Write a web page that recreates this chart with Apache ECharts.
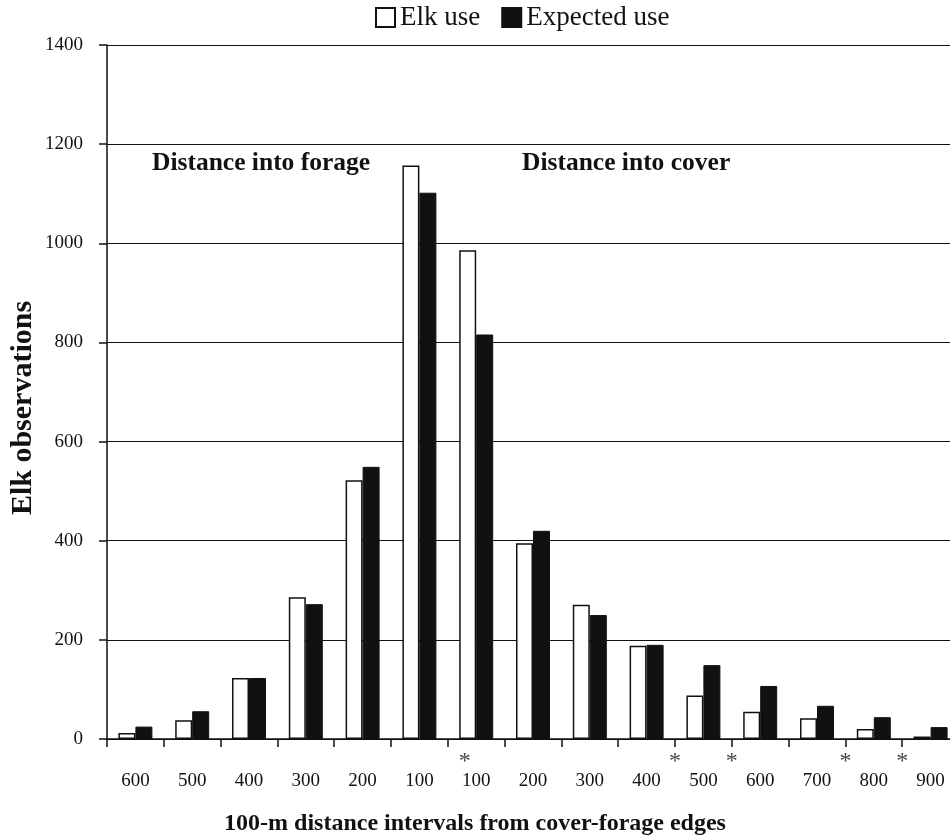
<!DOCTYPE html>
<html><head><meta charset="utf-8">
<script src="https://cdn.jsdelivr.net/npm/echarts@6/dist/echarts.min.js"></script>
<style>html,body{margin:0;padding:0;background:#fff}#c{width:950px;height:840px}</style>
</head><body><div id="c"></div>
<script>
const categories = ['600','500','400','300','200','100','100','200','300','400','500','600','700','800','900'];
const elkUse = [12, 38, 123, 286, 522, 1157, 986, 395, 271, 188, 88, 55, 42, 20, 5];
const expectedUse = [25, 56, 123, 272, 549, 1102, 816, 420, 250, 190, 149, 107, 67, 44, 24];
const yMin = 0, yMax = 1400, yInterval = 200;
const asteriskPositions = [6.3, 10, 11, 13, 14];
const regionLabels = ['Distance into forage', 'Distance into cover'];
const seriesNames = ['Elk use', 'Expected use'];
const xTitle = '100-m distance intervals from cover-forage edges';
const yTitle = 'Elk observations';

const FF = '"Liberation Serif", "Times New Roman", serif';
const INK = '#111';
const chart = echarts.init(document.getElementById('c'), null, {renderer: 'canvas'});
chart.setOption({
  animation: false,
  backgroundColor: '#fff',
  title: {
    text: xTitle, left: 'center', top: 812, padding: 0,
    textStyle: {fontFamily: FF, fontSize: 24, fontWeight: 'bold', color: INK}
  },
  legend: {
    data: seriesNames, top: 4, left: 375, padding: 0,
    icon: 'rect', itemWidth: 19, itemHeight: 19, itemGap: 21,
    textStyle: {fontFamily: FF, fontSize: 27, color: INK, padding: [0, 0, 0, 0]}
  },
  grid: {left: 107, top: 45, width: 852, height: 694, outerBoundsMode: 'none', containLabel: false},
  xAxis: [{
    type: 'category', data: categories, boundaryGap: true,
    axisLine: {show: true, lineStyle: {color: INK, width: 1.5}},
    axisTick: {show: true, length: 8, interval: 0, alignWithLabel: false, lineStyle: {color: INK, width: 1.5}},
    axisLabel: {interval: 0, margin: 33, fontFamily: FF, fontSize: 19, color: INK},
    splitLine: {show: false}
  }, {
    type: 'value', min: 0, max: categories.length, show: false
  }],
  yAxis: {
    type: 'value', min: yMin, max: yMax, interval: yInterval,
    axisLine: {show: true, lineStyle: {color: INK, width: 1.5}},
    axisTick: {show: true, length: 8, lineStyle: {color: INK, width: 1.5}},
    axisLabel: {margin: 24, fontFamily: FF, fontSize: 19, color: INK, formatter: v => String(v)},
    splitLine: {show: true, lineStyle: {color: INK, width: 1}}
  },
  graphic: [
    {type: 'text', left: 152, top: 150, style: {text: regionLabels[0], font: 'bold 25.5px ' + FF, fill: INK}},
    {type: 'text', left: 522, top: 150, style: {text: regionLabels[1], font: 'bold 25.5px ' + FF, fill: INK}},
    {type: 'text', x: 23, y: 408, rotation: Math.PI / 2,
     style: {text: yTitle, font: 'bold 30px ' + FF, fill: INK, align: 'center', verticalAlign: 'middle'}}
  ],
  series: [
    {name: seriesNames[0], type: 'bar', data: elkUse, barWidth: 17, barGap: '0%',
     itemStyle: {color: '#fff', borderColor: INK, borderWidth: 1.5}},
    {name: seriesNames[1], type: 'bar', data: expectedUse, barWidth: 17, barGap: '0%',
     itemStyle: {color: INK, borderColor: INK, borderWidth: 1}},
    {name: 'asterisk', type: 'scatter', xAxisIndex: 1, yAxisIndex: 0, silent: true,
     data: asteriskPositions.map(p => [p, 0]), symbolSize: 1,
     itemStyle: {color: 'rgba(0,0,0,0)'},
     label: {show: true, formatter: '*', position: 'bottom', distance: 10,
             fontFamily: FF, fontSize: 24, color: INK}}
  ]
});
</script></body></html>
